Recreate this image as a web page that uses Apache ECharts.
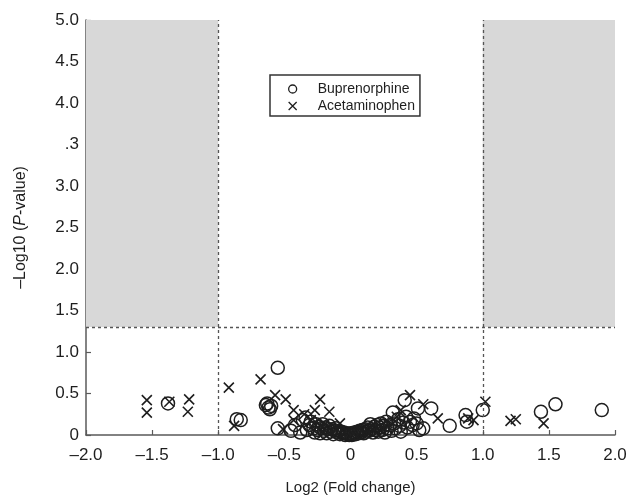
<!DOCTYPE html>
<html><head><meta charset="utf-8">
<script src="https://cdn.jsdelivr.net/npm/echarts@6/dist/echarts.min.js"></script>
<style>html,body{margin:0;padding:0;background:#fff}#c{width:630px;height:497px}</style>
</head><body><div id="c"></div>
<script>
const xTickLabels = ['–2.0','–1.5','–1.0','–0.5','0','0.5','1.0','1.5','2.0'];
const yTickLabels = ['0','0.5','1.0','1.5','2.0','2.5','3.0','.3','4.0','4.5','5.0'];
const foldCutoffs = [-1, 1];
const pCutoff = 1.3;

const buprenorphine = [
  [-1.38,0.38],
  [-0.86,0.19],[-0.83,0.18],
  [-0.55,0.81],
  [-0.64,0.36],[-0.62,0.33],[-0.63,0.38],[-0.60,0.35],[-0.61,0.31],
  [-0.55,0.08],[-0.45,0.05],[-0.42,0.12],[-0.38,0.03],[-0.36,0.18],[-0.34,0.21],
  [-0.33,0.06],[-0.31,0.12],[-0.30,0.16],[-0.28,0.08],[-0.27,0.03],[-0.26,0.13],
  [-0.25,0.06],[-0.24,0.10],[-0.23,0.02],[-0.22,0.08],[-0.21,0.13],[-0.20,0.05],
  [-0.19,0.09],[-0.18,0.02],[-0.17,0.07],[-0.16,0.11],[-0.15,0.04],[-0.14,0.07],
  [-0.13,0.01],[-0.12,0.05],[-0.11,0.08],[-0.10,0.03],[-0.09,0.05],[-0.08,0.01],
  [-0.07,0.04],[-0.06,0.02],[-0.05,0.03],[-0.04,0.00],[-0.03,0.02],[-0.02,0.01],
  [-0.01,0.00],[0.00,0.02],[0.01,0.00],[0.02,0.01],[0.03,0.03],[0.04,0.01],
  [0.05,0.04],[0.06,0.02],[0.07,0.05],[0.08,0.03],[0.09,0.06],[0.10,0.02],
  [0.11,0.07],[0.12,0.04],[0.13,0.09],[0.14,0.05],[0.15,0.13],[0.16,0.07],
  [0.17,0.03],[0.18,0.10],[0.19,0.06],[0.20,0.12],[0.21,0.04],[0.22,0.09],
  [0.23,0.14],[0.24,0.06],[0.25,0.11],[0.26,0.03],[0.27,0.16],[0.28,0.08],
  [0.30,0.12],[0.31,0.05],[0.32,0.27],[0.33,0.14],[0.34,0.08],[0.36,0.19],
  [0.37,0.11],[0.38,0.04],[0.40,0.15],[0.41,0.42],[0.42,0.22],[0.43,0.09],
  [0.45,0.16],[0.47,0.12],[0.48,0.20],[0.50,0.14],[0.51,0.32],[0.52,0.06],
  [0.55,0.08],[0.61,0.32],[0.75,0.11],[0.87,0.24],[0.88,0.16],[1.00,0.30],
  [1.44,0.28],[1.55,0.37],[1.90,0.30]
];

const acetaminophen = [
  [-1.54,0.42],[-1.54,0.27],[-1.37,0.40],[-1.22,0.43],[-1.23,0.28],
  [-0.92,0.57],[-0.88,0.11],[-0.68,0.67],[-0.57,0.48],[-0.49,0.43],
  [-0.43,0.30],[-0.51,0.07],[-0.43,0.18],[-0.35,0.25],[-0.30,0.18],
  [-0.23,0.43],[-0.27,0.30],[-0.16,0.28],[-0.20,0.12],[-0.12,0.06],
  [-0.08,0.14],[-0.05,0.03],[0.02,0.02],[0.08,0.05],[0.15,0.08],
  [0.22,0.10],[0.28,0.14],[0.35,0.22],[0.38,0.30],[0.45,0.48],
  [0.55,0.37],[0.66,0.20],[0.89,0.20],[0.93,0.18],[1.02,0.40],
  [1.21,0.17],[1.25,0.19],[1.46,0.14]
];

const FONT = 'Liberation Sans, Arial, sans-serif';
const INK = '#1e1e1e';
const AXIS = '#5a5a5a';
const crossPath = 'path://M0,0L10,10M10,0L0,10';

const chart = echarts.init(document.getElementById('c'), null, {renderer:'canvas'});
chart.setOption({
  animation:false,
  backgroundColor:'#fff',
  textStyle:{fontFamily:FONT},
  grid:{left:86,right:15,top:20,bottom:62,outerBoundsMode:'none'},
  legend:{
    orient:'vertical', left:270, top:75,
    borderColor:'#333', borderWidth:1.5, borderRadius:0,
    padding:[7,5,3,18], itemGap:3, itemWidth:36, itemHeight:8,
    textStyle:{fontFamily:FONT,fontSize:14,color:INK,padding:[0,0,0,2]},
    data:[
      {name:'Buprenorphine',icon:'circle',itemStyle:{color:'transparent',borderColor:INK,borderWidth:1.3}},
      {name:'Acetaminophen',icon:crossPath,itemStyle:{color:'transparent',borderColor:INK,borderWidth:1.3}}
    ]
  },
  xAxis:{
    type:'value', min:-2, max:2, interval:0.5,
    name:'Log2 (Fold change)', nameLocation:'middle', nameGap:45,
    nameTextStyle:{fontFamily:FONT,fontSize:15,color:INK},
    axisLine:{show:true,lineStyle:{color:AXIS,width:1.5}},
    axisTick:{show:true,inside:true,length:5,lineStyle:{color:AXIS,width:1.2}},
    axisLabel:{fontFamily:FONT,fontSize:17,color:INK,margin:12,
      formatter:v=>xTickLabels[Math.round((v+2)/0.5)]},
    splitLine:{show:false}
  },
  yAxis:{
    type:'value', min:0, max:5, interval:0.5,
    name:'{a|–Log10 (}{i|P}{a|-value)}', nameLocation:'middle', nameGap:57, nameRotate:90,
    nameTextStyle:{fontFamily:FONT,fontSize:16,color:INK,
      rich:{a:{fontFamily:FONT,fontSize:16,color:INK},i:{fontFamily:FONT,fontSize:16,color:INK,fontStyle:'italic'}}},
    axisLine:{show:true,onZero:false,lineStyle:{color:AXIS,width:1.5}},
    axisTick:{show:true,inside:true,length:5,lineStyle:{color:AXIS,width:1.2}},
    axisLabel:{fontFamily:FONT,fontSize:17,color:INK,margin:7,
      formatter:v=>yTickLabels[Math.round(v/0.5)]},
    splitLine:{show:false}
  },
  series:[
    {
      type:'scatter', data:[], silent:true,
      markArea:{silent:true,itemStyle:{color:'#d8d8d8'},
        data:[
          [{coord:[-2,pCutoff]},{coord:[foldCutoffs[0],5]}],
          [{coord:[foldCutoffs[1],pCutoff]},{coord:[2,5]}]
        ]},
      markLine:{silent:true,symbol:['none','none'],label:{show:false},
        lineStyle:{color:'#555',width:1.3,type:[3,3]},
        data:[
          [{coord:[foldCutoffs[0],0]},{coord:[foldCutoffs[0],5]}],
          [{coord:[foldCutoffs[1],0]},{coord:[foldCutoffs[1],5]}],
          [{coord:[-2,pCutoff]},{coord:[2,pCutoff]}]
        ]}
    },
    {
      name:'Buprenorphine', type:'scatter', clip:false, z:3,
      symbol:'circle', symbolSize:13,
      itemStyle:{color:'transparent',borderColor:INK,borderWidth:1.5,opacity:1},
      data:buprenorphine
    },
    {
      name:'Acetaminophen', type:'scatter', clip:false, z:4,
      symbol:crossPath, symbolSize:10,
      itemStyle:{color:'transparent',borderColor:INK,borderWidth:1.6,opacity:1},
      data:acetaminophen
    }
  ]
});
</script></body></html>
